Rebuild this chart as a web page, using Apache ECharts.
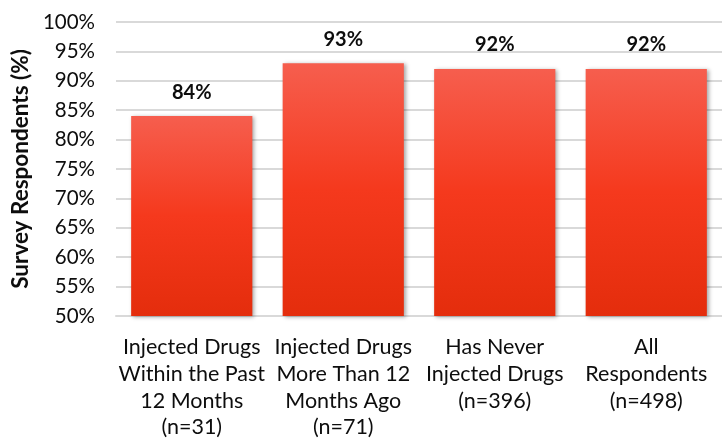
<!DOCTYPE html>
<html>
<head>
<meta charset="utf-8">
<script src="https://cdn.jsdelivr.net/npm/echarts@6/dist/echarts.min.js"></script>
<style>
html,body{margin:0;padding:0;background:#fff;}
#chart{width:722px;height:443px;}
</style>
</head>
<body>
<div id="chart"></div>
<script>
var categories = [
  "Injected Drugs\nWithin the Past\n12 Months\n(n=31)",
  "Injected Drugs\nMore Than 12\nMonths Ago\n(n=71)",
  "Has Never\nInjected Drugs\n(n=396)",
  "All\nRespondents\n(n=498)"
];
var values = [84, 93, 92, 92];
var yAxisTitle = "Survey Respondents (%)";
var yMin = 50, yMax = 100, yStep = 5;

var FONT = "Lato";
var chart = echarts.init(document.getElementById('chart'), null, {renderer: 'canvas'});
chart.setOption({
  animation: false,
  backgroundColor: '#ffffff',
  grid: {left: 116, right: -2, top: 22, bottom: 127, containLabel: false},
  xAxis: {
    type: 'category',
    data: categories,
    axisLine: {show: true, lineStyle: {color: '#d9d9d9', width: 2}},
    axisTick: {show: false},
    axisLabel: {
      interval: 0, margin: 18, color: '#0d0d0d',
      fontFamily: FONT, fontSize: 21.5, lineHeight: 26.7, align: 'center'
    }
  },
  yAxis: {
    type: 'value', min: yMin, max: yMax, interval: yStep,
    name: yAxisTitle, nameLocation: 'middle', nameGap: 84,
    nameTextStyle: {fontFamily: FONT, fontSize: 22.5, fontWeight: 'bold', color: '#0d0d0d'},
    axisLine: {show: false}, axisTick: {show: false},
    axisLabel: {formatter: '{value}%', margin: 21, color: '#0d0d0d', fontFamily: FONT, fontSize: 20.5},
    splitLine: {lineStyle: {color: '#d9d9d9', width: 2}}
  },
  series: [{
    type: 'bar',
    data: values,
    barCategoryGap: '20%',
    itemStyle: {
      color: new echarts.graphic.LinearGradient(0, 0, 0, 1, [
        {offset: 0, color: '#f65e4e'},
        {offset: 0.5, color: '#f5391d'},
        {offset: 1, color: '#e42d0c'}
      ]),
      shadowColor: 'rgba(0,0,0,0.35)', shadowBlur: 4, shadowOffsetX: 2, shadowOffsetY: 1
    },
    label: {
      show: true, position: 'top', distance: 14,
      formatter: '{c}%', fontFamily: FONT, fontSize: 20, fontWeight: 'bold', color: '#0d0d0d'
    }
  }]
});
</script>
</body>
</html>
